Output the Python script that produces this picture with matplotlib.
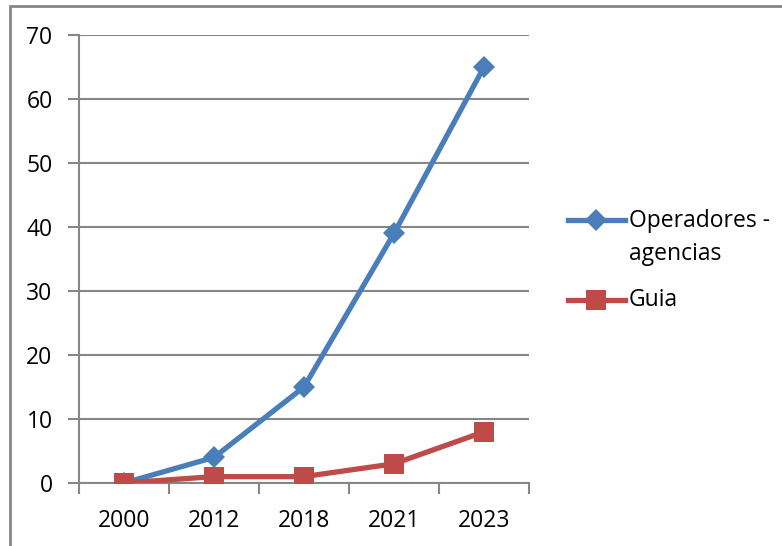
import matplotlib.pyplot as plt
from matplotlib.lines import Line2D
from matplotlib.patches import Rectangle
import numpy as np

plt.rcParams['font.family'] = ['Open Sans', 'DejaVu Sans']

# data
years = ['2000', '2012', '2018', '2021', '2023']
operadores = [0, 4, 15, 39, 65]
guia = [0, 1, 1, 3, 8]
yticks = [0, 10, 20, 30, 40, 50, 60, 70]

blue = '#4A7EBB'
red = '#BE4B48'
grey = '#868686'
W, H = 782, 546

fig = plt.figure(figsize=(W / 100, H / 100), dpi=100)

def fx(px):
    return px / W

def fy(py):
    return 1 - py / H

# outer chart frame (cut off at right/bottom in the reference)
fig.add_artist(Rectangle((fx(10), fy(560)), fx(800), fy(6) - fy(560),
                         transform=fig.transFigure, fill=False,
                         edgecolor=grey, lw=2))

ax = fig.add_axes([fx(79), fy(483), fx(529) - fx(79), fy(35) - fy(483)])
x = np.arange(len(years))

ax.plot(x, operadores, color=blue, lw=3.8, marker='D', ms=11,
        markeredgewidth=0, zorder=3, label='Operadores -\nagencias')
ax.plot(x, guia, color=red, lw=3.8, marker='s', ms=14,
        markeredgewidth=0, zorder=4, label='Guia')

ax.set_xlim(-0.5, len(years) - 0.5)
ax.set_ylim(0, 70)
ax.set_yticks(yticks)
ax.set_xticks(x)
ax.set_xticklabels(years)
ax.set_xticks(np.arange(-0.5, len(years)), minor=True)

ax.yaxis.grid(True, color=grey, lw=1.5)
ax.set_axisbelow(True)
for s in ['top', 'right']:
    ax.spines[s].set_visible(False)
for s in ['left', 'bottom']:
    ax.spines[s].set_color(grey)
    ax.spines[s].set_linewidth(1.5)

ax.tick_params(axis='y', direction='out', length=8, width=1.5, color=grey,
               labelsize=16.5, pad=11)
ax.tick_params(axis='x', which='major', length=0, labelsize=16.5, pad=19)
ax.tick_params(axis='x', which='minor', direction='out', length=8,
               width=1.5, color=grey)

# legend drawn by hand so the marker sits on the first text line
entries = [(blue, 'D', 11, 220, 'Operadores -\nagencias', 237.5),
           (red, 's', 14, 300, 'Guia', 300)]
for col, mk, ms, yy, lab, ty in entries:
    fig.add_artist(Line2D([fx(568), fx(596), fx(625)], [fy(yy)] * 3,
                          transform=fig.transFigure, color=col, lw=3.8,
                          marker=mk, ms=ms, markeredgewidth=0,
                          markevery=[1]))
    fig.text(fx(629), fy(ty), lab, fontsize=16.5, va='center', ha='left',
             linespacing=1.5)

fig.savefig('out.png', dpi=100)
